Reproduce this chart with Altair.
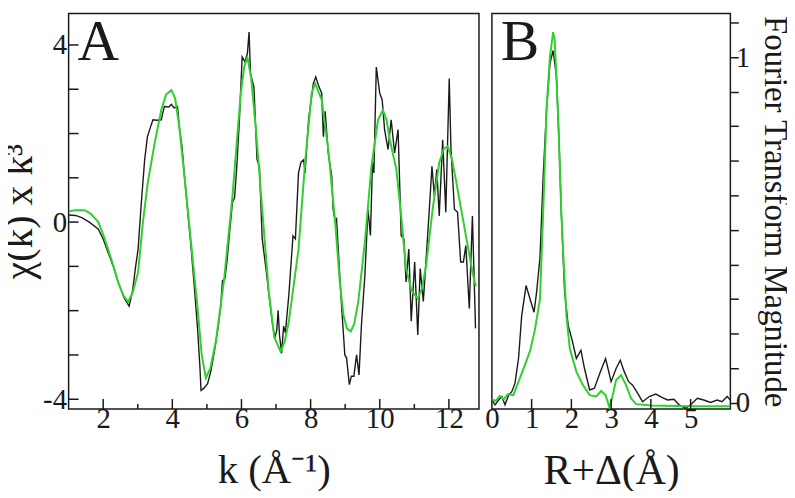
import altair as alt
import pandas as pd

# ---------------- Panel A: chi(k) * k^3 ----------------
k_exp = [1.00, 1.20, 1.38, 1.60, 1.86, 2.00, 2.14, 2.30, 2.43, 2.60, 2.75, 2.85, 2.93, 3.01, 3.10,
         3.20, 3.28, 3.37, 3.44, 3.55, 3.68, 3.72, 3.77, 3.90, 3.97, 4.05, 4.15, 4.20, 4.28, 4.35,
         4.45, 4.54, 4.63, 4.73, 4.80, 4.83, 4.90, 4.95, 5.02, 5.12, 5.22, 5.32, 5.40, 5.45, 5.52,
         5.58, 5.66, 5.74, 5.80, 5.86, 5.94, 6.02, 6.10, 6.17, 6.22, 6.26, 6.31, 6.36, 6.45, 6.52,
         6.60, 6.70, 6.79, 6.88, 6.96, 7.02, 7.06, 7.10, 7.16, 7.22, 7.27, 7.37, 7.49, 7.56, 7.65,
         7.72, 7.80, 7.84, 7.94, 8.08, 8.15, 8.22, 8.32, 8.37, 8.42, 8.51, 8.61, 8.65, 8.71, 8.75,
         8.82, 8.90, 8.99, 9.04, 9.12, 9.18, 9.25, 9.33, 9.40, 9.47, 9.57, 9.66, 9.73, 9.79, 9.83,
         9.90, 10.00, 10.07, 10.14, 10.24, 10.33, 10.43, 10.53, 10.62, 10.70, 10.76, 10.84, 10.91,
         11.01, 11.10, 11.17, 11.26, 11.36, 11.44, 11.51, 11.58, 11.65, 11.72, 11.82, 11.91, 12.01,
         12.06, 12.16, 12.25, 12.34, 12.42, 12.49, 12.59, 12.68, 12.77]
chi_exp = [0.16, 0.15, 0.10, 0.00, -0.16, -0.38, -0.68, -1.02, -1.35, -1.70, -1.90, -1.55, -1.05, -0.61, 0.40,
           1.41, 1.93, 2.15, 2.31, 2.30, 2.31, 2.45, 2.61, 2.60, 2.66, 2.58, 2.61, 2.16, 1.70, 1.05,
           0.20, -0.55, -1.40, -2.40, -3.30, -3.80, -3.76, -3.72, -3.65, -3.35, -2.90, -2.40, -1.90, -1.32, -1.28,
           -0.90, -0.20, 0.45, 0.55, 1.20, 2.30, 3.73, 3.62, 3.80, 4.29, 3.36, 3.20, 3.06, 1.41, 1.25,
           -0.38, -1.00, -1.60, -2.20, -2.62, -2.45, -1.99, -2.55, -2.96, -2.35, -2.50, -1.65, -0.31, -0.38, 1.11,
           1.35, 1.41, 1.11, 2.31, 3.13, 3.28, 3.10, 2.91, 1.93, 2.50, 1.56, 1.04, 0.30, 0.02, 0.07,
           -0.90, -1.95, -3.00, -3.07, -3.67, -3.48, -3.48, -3.00, -3.45, -2.33, -1.20, 0.29, -0.30, 1.34, 1.11,
           3.50, 2.91, 2.76, 2.09, 1.64, 2.31, 1.56, 2.09, -0.31, -0.38, -1.35, -0.61, -2.24,
           -0.90, -2.55, -1.05, -1.79, -0.61, 0.37, 1.26, 0.59, 1.19, 0.14, 1.86, 0.22, 3.24,
           1.64, 0.29, 0.22, -0.90, -0.90, -0.53, -1.95, 0.14, -2.40]

k_fit = [1.00, 1.20, 1.47, 1.65, 1.86, 2.00, 2.14, 2.30, 2.43, 2.58, 2.72, 2.85, 3.01, 3.15, 3.29,
         3.49, 3.68, 3.82, 3.97, 4.08, 4.20, 4.35, 4.54, 4.73, 4.85, 4.97, 5.10, 5.26, 5.50, 5.74,
         5.98, 6.08, 6.17, 6.28, 6.41, 6.60, 6.79, 6.95, 7.13, 7.25, 7.37, 7.65, 7.84, 8.03, 8.13,
         8.32, 8.51, 8.71, 8.85, 8.95, 9.05, 9.16, 9.26, 9.38, 9.57, 9.76, 9.95, 10.09, 10.20, 10.29,
         10.48, 10.62, 10.76, 10.92, 11.10, 11.22, 11.34, 11.53, 11.72, 11.85, 11.96, 12.08, 12.20,
         12.44, 12.68, 12.78]
chi_fit = [0.24, 0.27, 0.27, 0.18, 0.00, -0.28, -0.61, -1.00, -1.35, -1.65, -1.80, -1.60, -1.13, 0.00, 0.89,
           1.79, 2.53, 2.88, 2.98, 2.80, 2.16, 1.04, -0.45, -1.95, -3.00, -3.52, -3.30, -2.69, -1.28, 0.59,
           2.91, 3.50, 3.73, 3.25, 2.16, 0.29, -1.57, -2.60, -2.92, -2.70, -2.24, -0.61, 1.34, 2.91, 3.13,
           2.76, 1.64, 0.00, -1.40, -2.10, -2.40, -2.47, -2.30, -1.79, -0.45, 1.26, 2.31, 2.53, 2.30, 1.86,
           1.19, 0.14, -1.05, -1.55, -1.73, -1.50, -0.98, 0.29, 1.34, 1.65, 1.71, 1.45, 0.96,
           -0.08, -1.13, -1.45]

# ---------------- Panel B: Fourier transform magnitude ----------------
r_exp = [0.00, 0.08, 0.17, 0.25, 0.33, 0.42, 0.50, 0.58, 0.67, 0.75, 0.86, 0.96, 1.06, 1.125, 1.21,
         1.29, 1.375, 1.46, 1.54, 1.625, 1.69, 1.75, 1.83, 1.92, 2.03, 2.125, 2.24, 2.33, 2.46, 2.58,
         2.73, 2.86, 3.00, 3.125, 3.23, 3.33, 3.44, 3.54, 3.67, 3.79, 3.96, 4.125, 4.29, 4.42, 4.58,
         4.71, 4.875, 5.00, 5.17, 5.33, 5.50, 5.67, 5.79, 5.92, 6.00]
ft_exp = [0.008, -0.006, 0.008, 0.018, -0.006, 0.022, 0.032, 0.056, 0.128, 0.252, 0.339, 0.300, 0.262, 0.320, 0.420,
          0.655, 0.847, 0.981, 1.019, 0.943, 0.751, 0.540, 0.320, 0.224, 0.176, 0.128, 0.152, 0.099, 0.037, 0.042,
          0.090, 0.128, 0.061, 0.099, 0.123, 0.090, 0.061, 0.051, 0.027, 0.003, 0.018, 0.025, 0.015, 0.008, 0.010,
          -0.006, -0.016, -0.006, 0.013, 0.008, 0.001, 0.008, 0.003, 0.018, 0.008]

r_fit = [0.00, 0.10, 0.20, 0.30, 0.40, 0.54, 0.67, 0.83, 0.96, 1.08, 1.21, 1.29, 1.375, 1.46, 1.54,
         1.58, 1.67, 1.75, 1.79, 1.875, 1.96, 2.125, 2.29, 2.46, 2.625, 2.75, 2.86, 2.96, 3.04, 3.125,
         3.25, 3.375, 3.50, 3.625, 4.00, 5.00, 6.00]
ft_fit = [0.010, 0.005, 0.020, 0.010, 0.025, 0.022, 0.061, 0.109, 0.150, 0.210, 0.300, 0.550, 0.850, 1.000, 1.072,
          1.050, 0.820, 0.540, 0.444, 0.252, 0.157, 0.090, 0.051, 0.022, 0.018, 0.034, 0.022, -0.014, 0.022, 0.066,
          0.080, 0.051, 0.013, -0.004, -0.008, -0.010, -0.010]

# axis tick values
a_x_labels = [2, 4, 6, 8, 10, 12]
a_x_minor = [3, 5, 7, 9, 11]
a_y_ticks = [-4, -3, -2, -1, 0, 1, 2, 3, 4]
a_y_labels = [-4, 0, 4]
b_x_labels = [0, 1, 2, 3, 4, 5]
b_x_ticks = [1, 2, 3, 4, 5]
b_y_ticks = [0, 0.1, 0.2, 0.3, 0.4, 0.5, 0.6, 0.7, 0.8, 0.9, 1.0, 1.1]

FONT = "Liberation Serif"
INK = "#1a1a1a"
GREEN = "#2fcf2f"
WA, WB, H = 413, 240, 398
NB = "\u00a0"

# ---------- Panel A ----------
scale_kA = alt.Scale(domain=[1, 12.87], nice=False, zero=False)
scale_yA = alt.Scale(domain=[-4.22, 4.71], nice=False, zero=False)

axis_xA = alt.Axis(values=a_x_labels, ticks=False, domain=False, grid=False,
                   labelFont=FONT, labelFontSize=29, labelPadding=-4, labelColor=INK,
                   labelFlush=False, labelOverlap=False,
                   title=NB * 2 + "k (Å⁻¹)", titleFont=FONT, titleFontSize=41,
                   titleFontWeight="normal", titleColor=INK, titlePadding=17)
axis_yA = alt.Axis(values=a_y_labels, ticks=False, domain=False, grid=False,
                   labelFont=FONT, labelFontSize=29, labelPadding=2, labelColor=INK,
                   labelFlush=False, labelOverlap=False,
                   labelExpr="datum.value < 0 ? '-' + toString(-datum.value) : toString(datum.value)",
                   title="χ(k) x k³" + NB * 3, titleFont=FONT, titleFontSize=40,
                   titleFontWeight="normal", titleColor=INK, titlePadding=3)

XA = alt.X("k:Q", scale=scale_kA, axis=axis_xA)
YA = alt.Y("chi:Q", scale=scale_yA, axis=axis_yA)

dfA_exp = pd.DataFrame({"k": k_exp, "chi": chi_exp})
dfA_fit = pd.DataFrame({"k": k_fit, "chi": chi_fit})

a_exp = alt.Chart(dfA_exp).mark_line(color=INK, strokeWidth=1.4, clip=True).encode(x=XA, y=YA)
a_fit = alt.Chart(dfA_fit).mark_line(color=GREEN, strokeWidth=2, clip=True).encode(x=XA, y=YA)
a_xmaj = alt.Chart(pd.DataFrame({"k": a_x_labels})).mark_rule(color=INK, strokeWidth=1.5).encode(
    x=XA, y=alt.value(H), y2=alt.value(H - 10))
a_xmin = alt.Chart(pd.DataFrame({"k": a_x_minor})).mark_rule(color=INK, strokeWidth=1.5).encode(
    x=XA, y=alt.value(H), y2=alt.value(H - 5))
a_yt = alt.Chart(pd.DataFrame({"chi": a_y_ticks})).mark_rule(color=INK, strokeWidth=1.5).encode(
    y=YA, x=alt.value(0), x2=alt.value(10))
a_letter = alt.Chart(pd.DataFrame({"t": ["A"]})).mark_text(
    font=FONT, fontSize=58, align="left", baseline="alphabetic", color=INK).encode(
    text="t:N", x=alt.value(9), y=alt.value(47))

panelA = alt.layer(a_exp, a_fit, a_xmaj, a_xmin, a_yt, a_letter).properties(width=WA, height=H)

# ---------- Panel B ----------
scale_rB = alt.Scale(domain=[0, 6], nice=False, zero=False)
scale_yB = alt.Scale(domain=[-0.018, 1.126], nice=False, zero=False)

axis_xB = alt.Axis(values=b_x_labels, ticks=False, domain=False, grid=False,
                   labelFont=FONT, labelFontSize=29, labelPadding=-4, labelColor=INK,
                   labelFlush=False, labelOverlap=False,
                   title=NB + "R+Δ(Å)", titleFont=FONT, titleFontSize=42, titleFontWeight="normal",
                   titleColor=INK, titlePadding=17)
axis_yB = alt.Axis(orient="right", values=b_y_ticks, ticks=True, tickSize=8, tickWidth=1.5,
                   tickColor=INK, domain=False, grid=False,
                   labelFont=FONT, labelFontSize=29, labelPadding=-3, labelColor=INK,
                   labelFlush=False, labelOverlap=False,
                   labelExpr="datum.value == 0 ? '0' : (abs(datum.value - 1) < 0.001 ? '1' : '')",
                   title="Fourier Transform Magnitude", titleFont=FONT, titleFontSize=33,
                   titleFontWeight="normal", titleColor=INK, titlePadding=8)

XB = alt.X("r:Q", scale=scale_rB, axis=axis_xB)
YB = alt.Y("ft:Q", scale=scale_yB, axis=axis_yB)

dfB_exp = pd.DataFrame({"r": r_exp, "ft": ft_exp})
dfB_fit = pd.DataFrame({"r": r_fit, "ft": ft_fit})

b_exp = alt.Chart(dfB_exp).mark_line(color=INK, strokeWidth=1.4, clip=True).encode(x=XB, y=YB)
b_fit = alt.Chart(dfB_fit).mark_line(color=GREEN, strokeWidth=2, clip=True).encode(x=XB, y=YB)
b_xt = alt.Chart(pd.DataFrame({"r": b_x_ticks})).mark_rule(color=INK, strokeWidth=1.5).encode(
    x=XB, y=alt.value(H), y2=alt.value(H - 10))
b_letter = alt.Chart(pd.DataFrame({"t": ["B"]})).mark_text(
    font=FONT, fontSize=58, align="left", baseline="alphabetic", color=INK).encode(
    text="t:N", x=alt.value(9), y=alt.value(47))

panelB = alt.layer(b_exp, b_fit, b_xt, b_letter).properties(width=WB, height=H)

chart = alt.hconcat(panelA, panelB, spacing=13, bounds="flush").properties(
    padding={"left": -9, "top": -2, "right": -5, "bottom": -3}
).configure_view(stroke=INK, strokeWidth=1.5)

chart.save("out.html", embed_options={"renderer": "svg", "actions": False})
